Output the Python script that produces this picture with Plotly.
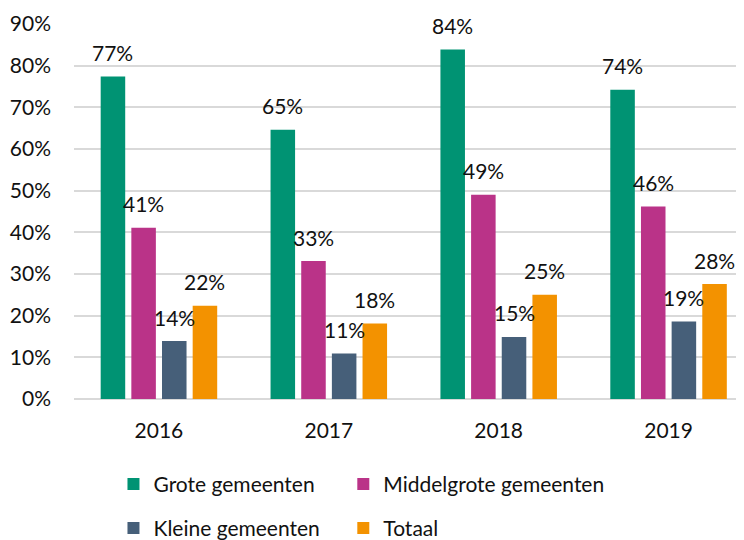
import plotly.graph_objects as go

years = ["2016", "2017", "2018", "2019"]
series_names = ["Grote gemeenten", "Middelgrote gemeenten", "Kleine gemeenten", "Totaal"]
grote = [77.4, 64.6, 83.9, 74.2]
middelgrote = [41.1, 33.1, 49.0, 46.2]
kleine = [13.9, 10.9, 14.9, 18.6]
totaal = [22.4, 18.1, 25.0, 27.6]
colors = ["#009373", "#BA3388", "#465F79", "#F39200"]
y_ticks = [0, 10, 20, 30, 40, 50, 60, 70, 80, 90]

FONT = "Lato"
FS = 21
TXT = "#111111"

# figure coordinates (page body adds an 8px offset)
ML = 65.5
PW = 744 - ML
PT, PB = 16, 148.5
PH = 540 - PT - PB
cat_px = 170.0

all_values = [grote, middelgrote, kleine, totaal]
legend_ids = ["legend", "legend2", "legend3", "legend4"]

fig = go.Figure()
for name, vals, col, lg in zip(series_names, all_values, colors, legend_ids):
    fig.add_trace(go.Bar(x=years, y=vals, name=name, marker=dict(color=col, line=dict(width=0)),
                         legend=lg, hoverinfo="skip"))

# data labels above each bar
slot = cat_px * (1 - 0.278) / 4
for i, vals in enumerate(all_values):
    offset = (i - 1.5) * slot
    for j, v in enumerate(vals):
        fig.add_annotation(x=j, y=v, xref="x", yref="y", text=f"{round(v)}%", showarrow=False,
                           xshift=offset, yshift=24, yanchor="middle",
                           font=dict(family=FONT, size=FS, color=TXT))

# legend layout: 2 columns x 2 rows
col_px = [105, 335]
row_px = [477, 521]
leg_cfg = {}
for k, lg in enumerate(legend_ids):
    cx = col_px[k % 2]
    ry = row_px[k // 2]
    leg_cfg[lg] = dict(orientation="h", x=(cx - ML) / PW, xanchor="left",
                       y=(540 - PB - ry) / PH, yanchor="middle",
                       font=dict(family=FONT, size=FS, color=TXT), bgcolor="rgba(0,0,0,0)")

fig.update_layout(
    width=744, height=540,
    margin=dict(l=ML, r=0, t=PT, b=PB, autoexpand=False),
    paper_bgcolor="white", plot_bgcolor="white",
    barmode="group", bargap=0.278, bargroupgap=0.2,
    font=dict(family=FONT, size=FS, color=TXT),
    showlegend=True,
    **leg_cfg,
)
fig.update_xaxes(type="category", range=[-0.5, -0.5 + PW / cat_px], showgrid=False, showline=False, ticks="",
                 ticklabelstandoff=17, tickfont=dict(family=FONT, size=FS, color=TXT), fixedrange=True)
fig.update_yaxes(range=[0, 90], tickvals=y_ticks, ticktext=[f"{t}%" for t in y_ticks],
                 showgrid=True, gridcolor="#D9D9D9", gridwidth=1.5, zeroline=True,
                 zerolinecolor="#D9D9D9", zerolinewidth=1.5, showline=False, ticks="",
                 ticklabelstandoff=22, tickfont=dict(family=FONT, size=FS, color=TXT), fixedrange=True)

fig.write_html("out.html")
